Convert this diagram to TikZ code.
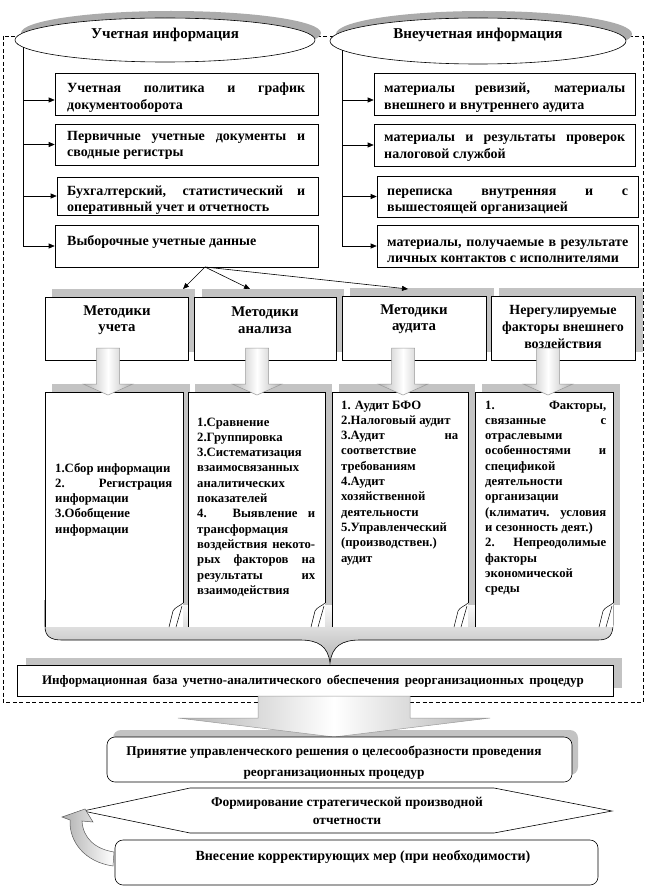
\documentclass[tikz,border=0pt]{standalone}
\usepackage{fontspec}
\setmainfont{Liberation Serif}
\usetikzlibrary{arrows.meta,shapes.geometric,calc}
\definecolor{shd}{HTML}{C3C3C3}
\definecolor{eshd}{HTML}{ABABAB}
\definecolor{agray}{HTML}{9A9A9A}
\hyphenpenalty=10000
\tolerance=10000
\hbadness=10000
\hfuzz=20pt
\tikzset{
  boxs/.style={draw=black, fill=white, line width=0.6pt, inner sep=0pt},
  btxt/.style={inner sep=0pt, text width=#1, align=justify, font=\bfseries\fontsize{14}{16.5}\selectfont},
  stxt/.style={inner sep=0pt, text width=#1, align=justify, font=\bfseries\fontsize{12.7}{15.3}\selectfont},
  ctxt/.style={inner sep=0pt, align=center, font=\bfseries\fontsize{15}{16}\selectfont},
  mtxt/.style={inner sep=0pt, align=center, font=\bfseries\fontsize{14.8}{16.5}\selectfont},
  arr/.style={-{Triangle[length=6pt,width=5pt]}, line width=0.6pt},
  frame/.style={draw=black, line width=0.6pt, dash pattern=on 4pt off 2.5pt},
  curl/.style={line width=0.5pt},
}
\newcommand\mkbox[6][]{\node[boxs,#1,minimum width={#5-#3},minimum height={#6-#4}] (#2) at ({(#3+#5)/2},{(#4+#6)/2}) {};}
\newcommand\blockdown[6]{%
  \shade[left color=agray!75, right color=agray!75, middle color=white, draw=agray, line width=0.5pt]
  (#1-#5,#2) -- (#1+#5,#2) -- (#1+#5,#3) -- (#1+#6,#3) -- (#1,#4) -- (#1-#6,#3) -- (#1-#5,#3) -- cycle;}
\newcommand\scrollshape[4]{%
  \fill[shd] (#1+7,#3-8) rectangle (#2+7,#4-22);
  \fill[white] (#1,#3) rectangle (#2,#4);
  \draw[line width=0.6pt] (#1,#4) -- (#1,#3) -- (#2,#3) -- (#2,#4-24);
  \draw[curl] (#2,#4-24) .. controls (#2-3,#4-21) and (#2-8,#4-20) .. (#2-10,#4-16) -- (#2-14,#4);
  \draw[curl] (#2-1,#4-21) -- (#2-7,#4);}
\begin{document}
\begin{tikzpicture}[x=1pt,y=-1pt]
\useasboundingbox (0,0) rectangle (648,888);
% dashed frame
\draw[frame] (3,36) rectangle (643,702);
% ellipses
\fill[eshd] (171,33) ellipse [x radius=150, y radius=22];
\fill[eshd] (484,34) ellipse [x radius=148, y radius=23];
\node[ellipse, draw=black, fill=white, line width=0.6pt, minimum width=300, minimum height=44, inner sep=0pt] (e1) at (165,40) {};
\node[ellipse, draw=black, fill=white, line width=0.6pt, minimum width=296, minimum height=46, inner sep=0pt] (e2) at (478,41) {};
\node[ctxt] (e1t) at (165,35) {Учетная информация};
\node[ctxt] (e2t) at (478,35) {Внеучетная информация};
% left boxes
\mkbox{lb1}{55}{73}{318}{115}
\mkbox{lb2}{55}{124}{318}{165}
\mkbox{lb3}{57}{177}{318}{215}
\mkbox{lb4}{55}{225}{318}{267}
\mkbox{rb1}{374}{73}{635}{115}
\mkbox{rb2}{374}{124}{635}{166}
\mkbox{rb3}{377}{176}{638}{217}
\mkbox{rb4}{377}{225}{638}{267}
\draw[arr] (e1.183) |- ([yshift=-6pt]lb1.west);
\draw[arr] (e1.183) |- (lb2.west);
\draw[arr] (e1.183) |- (lb3.west);
\draw[arr] (e1.183) |- (lb4.west);
\draw[arr] (e2.184) |- ([yshift=-6pt]rb1.west);
\draw[arr] (e2.184) |- (rb2.west);
\draw[arr] (e2.184) |- (rb3.west);
\draw[arr] (e2.184) |- (rb4.west);
\node[btxt=238pt, anchor=base west] (lt1) at (67,93) {Учетная политика и график\linebreak документооборота};
\node[btxt=238pt, anchor=base west] (lt2) at (67,140) {Первичные учетные документы и\linebreak сводные регистры};
\node[btxt=238pt, anchor=base west] (lt3) at (67,195) {Бухгалтерский, статистический и\linebreak оперативный учет и отчетность};
\node[btxt=238pt, anchor=base west] (lt4) at (67,245) {Выборочные учетные данные};
\node[btxt=241pt, anchor=base west] (rt1) at (384,93) {материалы ревизий, материалы\linebreak внешнего и внутреннего аудита};
\node[btxt=241pt, anchor=base west] (rt2) at (384,142) {материалы и результаты проверок\linebreak налоговой службой};
\node[btxt=241pt, anchor=base west] (rt3) at (387,195) {переписка внутренняя и с\linebreak вышестоящей организацией};
\node[btxt=241pt, anchor=base west] (rt4) at (387,246) {материалы, получаемые в результате\linebreak личных контактов с исполнителями};
% method boxes
\fill[shd] (52,289) rectangle (195,352);
\fill[shd] (202,289) rectangle (344,352);
\fill[shd] (350,288) rectangle (494,352);
\fill[shd] (499,288) rectangle (643,352);
\mkbox{m1}{45}{297}{188}{360}
\mkbox{m2}{194}{297}{336}{360}
\mkbox{m3}{342}{296}{486}{360}
\mkbox{m4}{491}{296}{635}{360}
\node[mtxt] (m1t) at (117,320) {Методики\\учета};
\node[mtxt] (m2t) at (265,320) {Методики\\анализа};
\node[mtxt] (m3t) at (414,319) {Методики\\аудита};
\node[mtxt, font=\bfseries\fontsize{14}{17}\selectfont] (m4t) at (563,328) {Нерегулируемые\\факторы внешнего\\воздействия};
\coordinate (src) at (205,267);
\coordinate (t1) at (183,289);
\coordinate (t2) at (250,289);
\coordinate (t3) at (408,289);
\draw[arr] (src) -- (t1);
\draw[arr] (src) -- (t2);
\draw[arr] (src) -- (t3);
% info shadow
\fill[shd] (26,658) rectangle (622,688);
% brace
\shade[top color=white, bottom color=gray!60, draw=black, line width=0.6pt]
  (45,600) -- (45,626) .. controls (45,636) and (50,640) .. (62,640) -- (300,640)
  .. controls (318,640) and (328,646) .. (330,663)
  .. controls (332,646) and (342,640) .. (360,640) -- (598,640)
  .. controls (610,640) and (613,634) .. (613,624) -- (613,600);
% scrolls
\scrollshape{45}{183}{392}{627}
\scrollshape{188}{325}{392}{627}
\scrollshape{332}{468}{392}{627}
\scrollshape{475}{613}{392}{627}
\node[stxt=117pt, anchor=base west] (s1) at (55,472) {1.Сбор информации\newline 2. Регистрация\linebreak информации\newline 3.Обобщение\newline информации};
\node[stxt=118pt, anchor=base west] (s2) at (197,426) {1.Сравнение\newline 2.Группировка\newline 3.Систематизация\newline взаимосвязанных\newline аналитических\newline показателей\newline 4. Выявление и\linebreak трансформация\newline воздействия некото-\linebreak рых факторов на\linebreak результаты их\linebreak взаимодействия};
\node[stxt=117pt, anchor=base west] (s3) at (341,409) {1. Аудит БФО\newline 2.Налоговый аудит\newline 3.Аудит на\linebreak соответствие\newline требованиям\newline 4.Аудит\newline хозяйственной\newline деятельности\newline 5.Управленческий\newline (производствен.)\newline аудит};
\node[stxt=121pt, anchor=base west] (s4) at (485,409) {1. Факторы,\linebreak связанные с\linebreak отраслевыми\newline особенностями и\linebreak спецификой\newline деятельности\newline организации\newline (климатич. условия\linebreak и сезонность деят.)\newline 2. Непреодолимые\linebreak факторы\newline экономической\newline среды};
% small block arrows
\blockdown{108}{348}{384}{395}{11.5}{25}
\blockdown{257}{348}{384}{395}{11.5}{25}
\blockdown{403}{348}{384}{395}{11.5}{25}
\blockdown{548}{348}{384}{395}{11.5}{25}
% info box
\mkbox{ib}{17}{665}{613}{696}
\node[ctxt, font=\bfseries\fontsize{13}{14}\selectfont] (ibt) at (313,681) {\makebox[542pt][s]{Информационная база учетно-аналитического обеспечения реорганизационных процедур}};
% decision box
\fill[shd, rounded corners=8pt] (113,730) rectangle (578,775);
\blockdown{334}{696}{718}{737}{76}{156}
\mkbox[rounded corners=8pt]{pr}{107}{737}{572}{782}
\node[ctxt, font=\bfseries\fontsize{13.3}{21}\selectfont] (prt) at (334,763) {Принятие управленческого решения о целесообразности проведения\\реорганизационных процедур};
% hexagon
\draw[line width=0.6pt, fill=white] (83,811) -- (190,788) -- (494,788) -- (612,811) -- (494,833) -- (190,833) -- cycle;
\node[ctxt, font=\bfseries\fontsize{13.5}{18}\selectfont] (hxt) at (347,811) {Формирование стратегической производной\\отчетности};
% corrective box
\mkbox[rounded corners=8pt]{vn}{115}{840}{598}{885}
\node[ctxt, font=\bfseries\fontsize{14}{16}\selectfont] (vnt) at (363,857) {Внесение корректирующих мер (при необходимости)};
% curved arrow
\shade[left color=agray!80, right color=white, draw=gray!70!black, line width=0.5pt]
  (114,852) .. controls (95,849) and (83,838) .. (82,821) -- (93,822) -- (85,809) -- (62,817) -- (70,820)
  .. controls (69,842) and (85,862) .. (113,866) -- cycle;
\end{tikzpicture}
\end{document}
